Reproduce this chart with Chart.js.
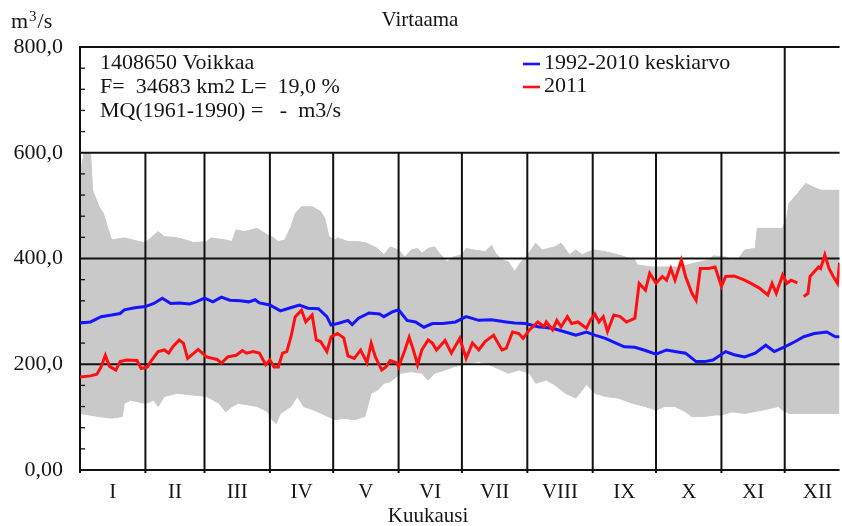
<!DOCTYPE html>
<html>
<head>
<meta charset="utf-8">
<script src="https://cdn.jsdelivr.net/npm/chart.js@4.4.1/dist/chart.umd.min.js"></script>
<style>
  html, body { margin: 0; padding: 0; background: #fff; }
  #wrap { width: 842px; height: 526px; }
</style>
</head>
<body>
<div id="wrap"><canvas id="flow-chart" width="842" height="526"></canvas></div>
<script>
const monthStarts = [0, 31, 59, 90, 120, 151, 181, 212, 243, 273, 304, 334];
const monthMids = [15.5, 45, 74.5, 105, 135.5, 166, 196.5, 227.5, 258, 288.5, 319, 349.5];
const monthLabels = ["I", "II", "III", "IV", "V", "VI", "VII", "VIII", "IX", "X", "XI", "XII"];
const yTicks = [0, 200, 400, 600, 800];

// 2011 daily flow (day of year, m3/s), null = missing
const flow2011 = [[0,176],[5,178],[8,181],[10,195],[12,217],[14,196],[17,189],[19,205],[22,208],[27,207],[29,192],[32,195],[34,208],[37,224],[40,227],[42,221],[44,233],[47,246],[49,240],[51,211],[54,221],[56,228],[60,214],[65,209],[67,202],[70,214],[74,217],[77,226],[79,221],[82,224],[85,221],[88,199],[90,208],[92,195],[94,195],[96,221],[98,224],[100,252],[102,290],[105,302],[107,280],[110,293],[112,246],[114,243],[117,224],[119,252],[122,258],[125,250],[127,216],[130,211],[133,227],[136,203],[138,240],[140,214],[143,189],[145,195],[147,207],[150,203],[151,195],[154,227],[156,251],[158,227],[160,199],[162,227],[165,246],[167,240],[169,227],[173,245],[176,221],[180,249],[183,211],[186,240],[189,227],[192,243],[196,255],[200,227],[202,230],[205,261],[208,258],[210,249],[213,265],[217,280],[220,271],[221,280],[224,265],[226,283],[228,271],[231,290],[233,277],[236,280],[240,268],[242,284],[244,295],[246,280],[248,290],[250,262],[253,293],[256,290],[259,280],[263,287],[265,353],[268,340],[270,372],[273,353],[276,366],[278,359],[280,381],[282,359],[285,397],[287,366],[290,334],[292,321],[294,381],[298,381],[301,384],[304,347],[306,366],[310,367],[315,359],[318,353],[322,344],[326,331],[328,353],[330,334],[333,369],[335,353],[337,359],[340,354],[342,null],[343,328],[345,334],[346,366],[350,384],[351,381],[353,407],[355,381],[357,366],[359,353],[360,392]];

// 1992-2010 mean
const meanFlow = [[0,278],[5,280],[10,290],[15,293],[19,296],[21,303],[26,307],[31,309],[35,315],[39,325],[43,315],[47,316],[52,314],[55,318],[59,325],[63,318],[67,327],[71,321],[76,320],[80,318],[83,322],[85,316],[90,312],[95,301],[99,306],[104,312],[108,306],[113,305],[117,290],[119,274],[123,278],[127,283],[129,275],[132,287],[137,297],[142,295],[144,290],[148,299],[151,303],[155,283],[159,280],[163,270],[167,277],[172,277],[178,280],[183,290],[189,283],[195,284],[202,280],[206,278],[211,277],[217,271],[224,268],[230,261],[235,255],[240,261],[244,255],[249,249],[254,240],[258,233],[263,232],[268,226],[273,219],[278,227],[282,224],[287,221],[292,205],[296,205],[300,208],[306,224],[310,218],[315,214],[320,221],[325,236],[329,224],[334,233],[339,243],[343,252],[348,258],[354,261],[358,252],[360,252]];

// 1992-2010 daily maximum and minimum
const maxFlow = [[0,560],[2,600],[5,600],[6,529],[9,498],[11,486],[13,460],[15,435],[21,439],[28,432],[31,430],[37,451],[40,441],[45,440],[50,435],[54,430],[60,432],[62,439],[69,435],[72,432],[74,454],[78,451],[84,457],[89,444],[91,441],[94,432],[97,435],[100,460],[102,485],[105,498],[110,498],[114,489],[116,476],[118,441],[121,435],[122,439],[127,432],[132,432],[136,429],[141,419],[144,407],[147,422],[151,416],[154,403],[157,416],[160,419],[162,410],[165,419],[168,422],[171,407],[174,394],[177,403],[181,407],[183,419],[187,416],[192,413],[195,425],[197,410],[200,397],[203,394],[206,375],[209,394],[211,400],[216,429],[219,416],[222,419],[225,422],[228,429],[232,407],[235,416],[238,407],[241,413],[244,416],[249,413],[255,407],[263,397],[264,388],[271,384],[277,384],[284,384],[291,391],[298,397],[300,405],[306,403],[309,397],[312,400],[315,416],[320,419],[321,457],[325,457],[333,457],[335,479],[336,504],[340,523],[344,542],[347,536],[351,529],[356,529],[360,529]];
const minFlow = [[0,107],[9,101],[15,98],[20,101],[21,126],[24,132],[31,126],[35,132],[37,120],[40,139],[46,145],[53,142],[60,139],[66,126],[69,110],[72,120],[75,126],[80,123],[84,120],[89,110],[91,95],[93,88],[95,107],[100,120],[103,139],[106,120],[111,113],[116,104],[121,95],[125,98],[130,95],[135,101],[138,145],[141,151],[144,164],[147,167],[152,183],[157,186],[162,183],[165,170],[168,183],[173,189],[177,195],[181,199],[184,202],[189,205],[194,199],[198,192],[203,183],[208,189],[213,183],[216,164],[221,170],[225,161],[230,145],[235,136],[238,151],[240,162],[244,145],[249,139],[255,136],[262,126],[268,120],[273,113],[277,120],[282,120],[287,110],[290,101],[295,101],[301,104],[304,104],[309,110],[315,107],[323,113],[331,120],[333,113],[336,107],[347,107],[360,107]];

const infoLines = ["1408650 Voikkaa", "F=  34683 km2 L=  19,0 %", "MQ(1961-1990) =   -  m3/s"];
const fullHeightLines = [334];

const FONT = '"Liberation Serif", "Times New Roman", serif';
const INK = "#151515";
const toPoints = (rows) => rows.map(([x, y]) => ({ x, y }));

function line(ctx, x1, y1, x2, y2) {
  ctx.beginPath();
  ctx.moveTo(x1, y1);
  ctx.lineTo(x2, y2);
  ctx.stroke();
}

const framePlugin = {
  id: "frame",
  afterDatasetDraw(chart, args) {
    if (args.index !== 2) return;
    const { ctx, chartArea: a, scales: { x, y } } = chart;
    ctx.save();
    ctx.strokeStyle = "#111";
    ctx.lineWidth = 2;
    [200, 400, 600].forEach((v) => line(ctx, a.left, y.getPixelForValue(v), a.right, y.getPixelForValue(v)));
    line(ctx, a.left - 1, a.top, a.right, a.top);
    line(ctx, a.left - 1, a.bottom, a.right, a.bottom);
    line(ctx, a.left, a.top, a.left, a.bottom + 3);
    monthStarts.slice(1).forEach((d) => {
      const px = x.getPixelForValue(d);
      const top = fullHeightLines.includes(d) ? a.top : y.getPixelForValue(600);
      line(ctx, px, top, px, a.bottom + 3);
    });
    ctx.lineWidth = 1.3;
    for (let v = 40; v < 800; v += 40) {
      if (v % 200 === 0) continue;
      const py = y.getPixelForValue(v);
      line(ctx, a.left, py, a.left + 5, py);
    }
    ctx.restore();
  },
  afterDraw(chart) {
    const { ctx } = chart;
    ctx.save();
    ctx.fillStyle = INK;
    ctx.textBaseline = "alphabetic";
    ctx.font = `21px ${FONT}`;
    ctx.textAlign = "center";
    ctx.fillText("Virtaama", 420, 26);
    ctx.fillText("Kuukausi", 428, 522);

    ctx.font = `22px ${FONT}`;
    ctx.textAlign = "left";
    ctx.fillText("m", 11, 28);
    const w = ctx.measureText("m").width;
    ctx.font = `15px ${FONT}`;
    ctx.fillText("3", 11 + w + 1, 21);
    const w3 = ctx.measureText("3").width;
    ctx.font = `22px ${FONT}`;
    ctx.fillText("/s", 11 + w + w3 + 2, 28);

    ctx.textBaseline = "middle";
    infoLines.forEach((t, i) => ctx.fillText(t, 100, 63 + i * 24));

    const legend = [["1992-2010 keskiarvo", "#1414ff", 63], ["2011", "#ff1010", 86]];
    legend.forEach(([label, color, py]) => {
      ctx.strokeStyle = color;
      ctx.lineWidth = 2.6;
      line(ctx, 523, py + 1, 540, py + 1);
      ctx.fillText(label, 544, py);
    });
    ctx.restore();
  },
};

new Chart(document.getElementById("flow-chart"), {
  type: "line",
  data: {
    datasets: [
      { label: "2011", data: toPoints(flow2011), borderColor: "#ff1010", borderWidth: 3, spanGaps: false, fill: false, pointRadius: 0 },
      { label: "1992-2010 keskiarvo", data: toPoints(meanFlow), borderColor: "#1414ff", borderWidth: 3, fill: false, pointRadius: 0 },
      { label: "max", data: toPoints(maxFlow), borderColor: "#c9c9c9", borderWidth: 1, backgroundColor: "#c9c9c9", fill: "+1", pointRadius: 0 },
      { label: "min", data: toPoints(minFlow), borderColor: "#c9c9c9", borderWidth: 1, fill: false, pointRadius: 0 },
    ],
  },
  options: {
    responsive: false,
    animation: false,
    layout: { padding: { top: 47, right: 0, bottom: 0, left: 0 } },
    plugins: { legend: { display: false }, tooltip: { enabled: false } },
    scales: {
      x: {
        type: "linear",
        min: 0,
        max: 360,
        afterBuildTicks: (scale) => { scale.ticks = monthMids.map((value) => ({ value })); },
        afterFit: (scale) => { scale.height = 56; },
        ticks: {
          autoSkip: false,
          maxRotation: 0,
          padding: 10,
          color: INK,
          font: { family: FONT, size: 21 },
          callback: (value, index) => monthLabels[index],
        },
        grid: { display: false, drawTicks: false },
        border: { display: false },
      },
      y: {
        min: 0,
        max: 800,
        afterBuildTicks: (scale) => { scale.ticks = yTicks.map((value) => ({ value })); },
        afterFit: (scale) => { scale.width = 80; },
        ticks: {
          padding: 17,
          color: INK,
          font: { family: FONT, size: 22 },
          callback: (value) => (value === 0 ? "0,00" : value.toFixed(1).replace(".", ",")),
        },
        grid: { display: false, drawTicks: false },
        border: { display: false },
      },
    },
  },
  plugins: [framePlugin],
});
</script>
</body>
</html>
